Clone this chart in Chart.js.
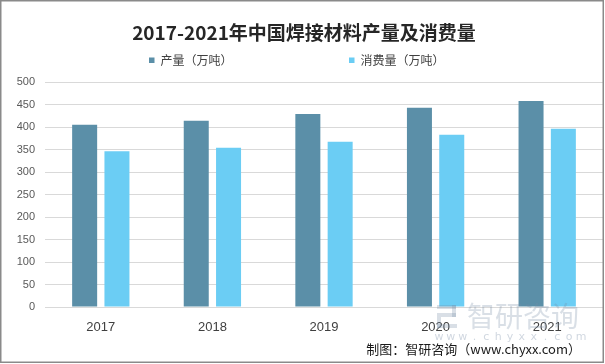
<!DOCTYPE html>
<html>
<head>
<meta charset="utf-8">
<script src="https://cdn.jsdelivr.net/npm/chart.js@4.4.1/dist/chart.umd.min.js"></script>
<style>
  html, body { margin: 0; padding: 0; background: #ffffff; }
  #wrap { width: 605px; height: 364px; position: relative; }
</style>
</head>
<body>
<div id="wrap"><canvas id="c" width="605" height="364"></canvas></div>
<script>
// ---- data ----
const years = ['2017', '2018', '2019', '2020', '2021'];
const production = [405, 414, 429, 443, 458];
const consumption = [346, 354, 367, 383, 396];
const seriesNames = ['产量（万吨）', '消费量（万吨）'];
const yTicks = [0, 50, 100, 150, 200, 250, 300, 350, 400, 450, 500];
const titleText = '2017-2021年中国焊接材料产量及消费量';
const sourceText = '制图：智研咨询（www.chyxx.com）';

const colors = ['#5B8FA8', '#6BCDF4'];
const CJK = '"Noto Sans CJK SC", "Noto Sans", sans-serif';

const decor = {
  id: 'decor',
  afterDraw(chart) {
    const ctx = chart.ctx;
    ctx.save();
    // title
    ctx.fillStyle = '#262626';
    ctx.font = 'bold 19px ' + CJK;
    ctx.textAlign = 'center';
    ctx.textBaseline = 'middle';
    ctx.fillText(titleText, 304, 33);

    // legend
    const legendX = [149, 349];
    ctx.font = '12px ' + CJK;
    ctx.textAlign = 'left';
    chart.data.datasets.forEach((ds, i) => {
      ctx.fillStyle = ds.backgroundColor;
      ctx.fillRect(legendX[i], 57.5, 5.5, 5.5);
      ctx.fillStyle = '#404040';
      ctx.fillText(ds.label, legendX[i] + 11.5, 60.5);
    });

    // watermark
    ctx.fillStyle = 'rgba(120,140,165,0.28)';
    ctx.fillRect(437, 305, 19, 4);
    ctx.fillRect(452, 305, 4, 12);
    ctx.fillRect(441, 313, 15, 4);
    ctx.fillRect(437, 313, 4, 15);
    ctx.fillRect(437, 324, 20, 4);
    ctx.font = '28px ' + CJK;
    ctx.textBaseline = 'middle';
    ctx.fillText('智研咨询', 467, 316);
    ctx.fillStyle = 'rgba(120,140,165,0.35)';
    ctx.font = '11px "DejaVu Sans", sans-serif';
    const wm = 'www.chyxx.com'.split('');
    const step = (581 - 439) / (wm.length - 1);
    ctx.textAlign = 'center';
    wm.forEach((ch, k) => ctx.fillText(ch, 439 + k * step, 337.5));

    // source
    ctx.fillStyle = '#1a1a1a';
    ctx.font = '13px ' + CJK;
    ctx.textAlign = 'right';
    ctx.fillText(sourceText, 581, 349.5);

    // frame
    ctx.strokeStyle = '#8a8a8a';
    ctx.lineWidth = 1.5;
    ctx.strokeRect(0.75, 0.75, 602.5, 361.5);
    ctx.restore();
  }
};

new Chart(document.getElementById('c'), {
  type: 'bar',
  data: {
    labels: years,
    datasets: [
      { label: seriesNames[0], data: production, backgroundColor: colors[0] },
      { label: seriesNames[1], data: consumption, backgroundColor: colors[1] }
    ]
  },
  options: {
    responsive: false,
    animation: false,
    devicePixelRatio: 1,
    layout: { padding: { top: 82, right: 2, bottom: 0, left: 0 } },
    datasets: { bar: { categoryPercentage: 0.579, barPercentage: 0.774 } },
    plugins: {
      legend: { display: false },
      title: { display: false },
      tooltip: { enabled: false }
    },
    scales: {
      x: {
        grid: { display: false, drawTicks: false },
        border: { display: true, color: '#d9d9d9', width: 1 },
        ticks: { color: '#404040', font: { size: 13, family: '"Liberation Sans", sans-serif' }, padding: 13 },
        afterFit(scale) { scale.height = 57; }
      },
      y: {
        min: 0, max: 500,
        afterBuildTicks(scale) { scale.ticks = yTicks.map(v => ({ value: v })); },
        grid: { color: '#d9d9d9', lineWidth: 1, drawTicks: false },
        border: { display: false },
        ticks: { color: '#595959', font: { size: 11, family: '"Liberation Sans", sans-serif' }, padding: 10 },
        afterFit(scale) { scale.width = 45; }
      }
    }
  },
  plugins: [decor]
});
</script>
</body>
</html>
